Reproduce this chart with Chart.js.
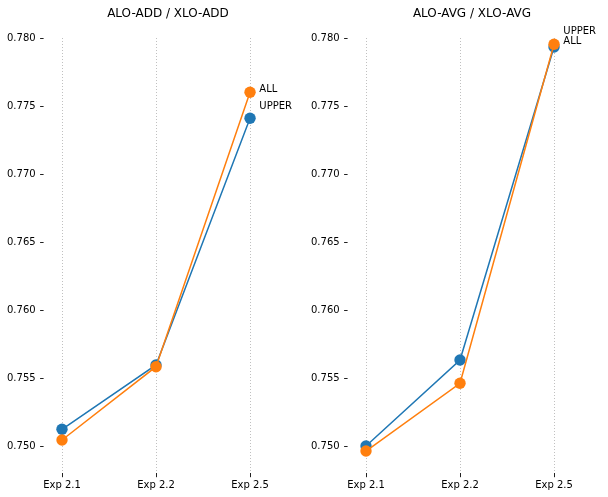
<!DOCTYPE html>
<html>
<head>
<meta charset="utf-8">
<script src="https://cdn.jsdelivr.net/npm/chart.js@4.4.0/dist/chart.umd.min.js"></script>
<style>
  html, body { margin: 0; padding: 0; background: #fff; overflow: hidden; }
  #wrap { position: relative; width: 608px; height: 497px; }
  .panel { position: absolute; top: 0; width: 336px; height: 497px; }
</style>
</head>
<body>
<div id="wrap">
  <div class="panel" style="left:0"><canvas id="addChart" width="336" height="497"></canvas></div>
  <div class="panel" style="left:304px"><canvas id="avgChart" width="336" height="497"></canvas></div>
</div>
<script>
const experiments = ['Exp 2.1', 'Exp 2.2', 'Exp 2.5'];
const yTicks = [0.750, 0.755, 0.760, 0.765, 0.770, 0.775, 0.780];

// ALO-ADD / XLO-ADD
const addUpper = [0.75123, 0.75596, 0.77410];
const addAll = [0.75044, 0.75583, 0.77601];

// ALO-AVG / XLO-AVG
const avgUpper = [0.75000, 0.75632, 0.77934];
const avgAll = [0.74963, 0.75461, 0.77954];

const FONT = '"DejaVu Sans", sans-serif';
const BLUE = '#1f77b4';
const ORANGE = '#ff7f0e';

// axes title, y tick marks set away from the plot, series names by the last point
const decorPlugin = {
  id: 'decor',
  afterDatasetsDraw(chart, args, opts) {
    const { ctx, chartArea } = chart;
    const x = chart.scales.x;
    const y = chart.scales.y;
    ctx.save();

    ctx.font = '12px ' + FONT;
    ctx.fillStyle = '#000';
    ctx.textAlign = 'center';
    ctx.textBaseline = 'middle';
    ctx.fillText(opts.title, (chartArea.left + chartArea.right) / 2, 14);

    ctx.strokeStyle = '#222';
    ctx.lineWidth = 1;
    yTicks.forEach(v => {
      const py = Math.round(y.getPixelForValue(v)) + 0.5;
      ctx.beginPath();
      ctx.moveTo(chartArea.left - 12.5, py);
      ctx.lineTo(chartArea.left - 9, py);
      ctx.stroke();
    });

    ctx.font = '10px ' + FONT;
    ctx.textAlign = 'left';
    ctx.textBaseline = 'alphabetic';
    chart.data.datasets.forEach(ds => {
      const last = ds.data[ds.data.length - 1];
      const px = x.getPixelForValue(last.x);
      const py = y.getPixelForValue(last.y);
      ctx.fillText(ds.label, px + 9.3, py + (opts.offsets[ds.label] || 0));
    });
    ctx.restore();
  },
};

function toPoints(values) {
  return values.map((v, i) => ({ x: i, y: v }));
}

function makePanel(id, title, upper, all, offsets) {
  const ctx = document.getElementById(id).getContext('2d');
  return new Chart(ctx, {
    type: 'line',
    data: {
      datasets: [
        {
          label: 'UPPER',
          data: toPoints(upper),
          borderColor: BLUE,
          backgroundColor: BLUE,
          pointBackgroundColor: BLUE,
          borderWidth: 1.5,
          pointRadius: 5.7,
          pointBorderWidth: 0,
          tension: 0,
          order: 2,
        },
        {
          label: 'ALL',
          data: toPoints(all),
          borderColor: ORANGE,
          backgroundColor: ORANGE,
          pointBackgroundColor: ORANGE,
          borderWidth: 1.5,
          pointRadius: 5.7,
          pointBorderWidth: 0,
          tension: 0,
          order: 1,
        },
      ],
    },
    options: {
      responsive: false,
      animation: false,
      layout: {
        padding: { left: 0, right: 52.6, top: 38, bottom: 0 },
      },
      plugins: {
        legend: { display: false },
        tooltip: { enabled: false },
        title: { display: false },
        decor: { title, offsets },
      },
      scales: {
        x: {
          type: 'linear',
          min: -0.1,
          max: 2.355,
          afterBuildTicks: s => {
            s.ticks = experiments.map((_, i) => ({ value: i }));
          },
          afterFit: s => {
            s.height = 23.8;
          },
          ticks: {
            callback: v => experiments[v],
            color: '#000',
            font: { family: FONT, size: 10 },
            padding: 2,
            autoSkip: false,
            maxRotation: 0,
          },
          grid: {
            color: '#b0b0b0',
            lineWidth: 0.8,
            drawTicks: true,
            tickLength: 4,
            tickColor: '#222',
            tickWidth: 1,
          },
          border: { display: false, dash: [1, 2] },
        },
        y: {
          type: 'linear',
          min: 0.748,
          max: 0.780,
          afterBuildTicks: s => {
            s.ticks = yTicks.map(v => ({ value: v }));
          },
          afterFit: s => {
            s.width = 52.6;
          },
          ticks: {
            callback: v => v.toFixed(3),
            color: '#000',
            font: { family: FONT, size: 10 },
            padding: 17,
          },
          grid: { display: false, drawTicks: false },
          border: { display: false },
        },
      },
    },
    plugins: [decorPlugin],
  });
}

makePanel('addChart', 'ALO-ADD / XLO-ADD', addUpper, addAll, { UPPER: -9.7, ALL: 0 });
makePanel('avgChart', 'ALO-AVG / XLO-AVG', avgUpper, avgAll, { UPPER: -13.4, ALL: 0 });
</script>
</body>
</html>
